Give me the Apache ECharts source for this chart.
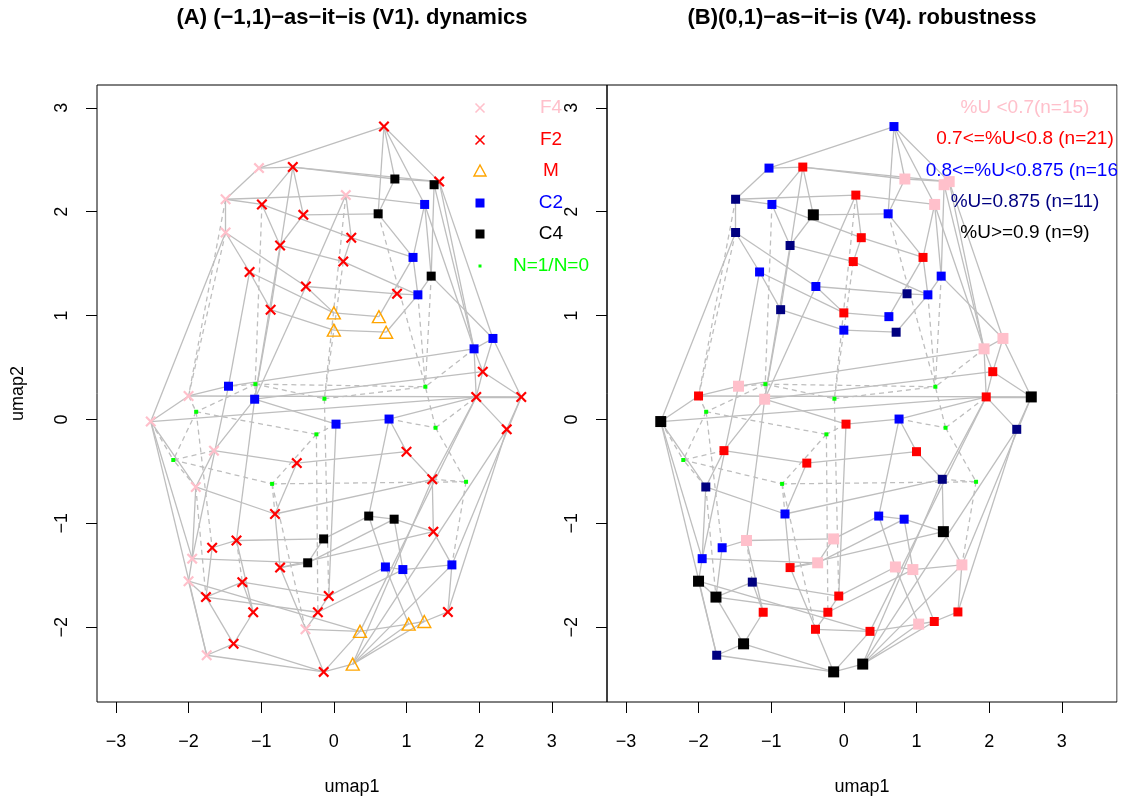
<!DOCTYPE html>
<html>
<head>
<meta charset="utf-8">
<title>umap dynamics / robustness</title>
<script src="https://cdn.jsdelivr.net/npm/echarts@6/dist/echarts.min.js"></script>
<style>
  html, body { margin: 0; padding: 0; background: #fff; }
  #chart { width: 1121px; height: 801px; }
</style>
</head>
<body>
<div id="chart"></div>
<script>
// ---- data ----
const pointId = [1, 2, 3, 4, 5, 6, 7, 8, 9, 10, 11, 12, 13, 14, 15, 16, 17, 18, 19, 20,
  21, 22, 23, 24, 25, 26, 29, 30, 31, 32, 33, 34, 35, 36, 37, 38, 39, 40,
  46, 47, 48, 49, 50, 51, 52, 53, 54, 55, 56, 57, 58, 59, 60, 61, 62, 63, 64, 65,
  66, 67, 68, 69, 70, 71, 72, 73, 74, 75, 76, 77, 78, 79, 80, 81, 82, 83, 84, 85, 86, 87, 88]

const umap1 = [-1.03, -0.565, -1.49, -0.99, -0.42, 0.165, 0.24, -1.49, -0.74, 0.13,
  -1.16, -0.385, -0.87, 0.0, 0.0, -1.45, -1.08, -1.09, -0.13, -2.0,
  0.69, 0.84, 1.38, 1.45, 1.25, 0.61,
  1.09, 1.34, 0.87, 1.157, 0.62, 0.72, 2.19, 1.93, 2.05, 1.26, 1.96, 2.58,
  -2.52, -1.895, 0.03, -0.24, -1.65, -2.21, -0.51, -0.85, -1.90, -0.81,
  -1.34, -0.14, -1.675, -1.95, -0.74, -0.36, -2.0, -1.26, -1.76, -0.07,
  -1.11, -0.22, -0.39, -1.38, -1.75, -0.14, 0.26, 0.36, 0.76, 1.40,
  2.38, 1.0, 1.355, 1.82, 0.48, 0.83, 1.37, 0.71, 0.95, 1.625, 1.57, 1.03, 1.245]

const umap2 = [2.42, 2.43, 2.12, 2.07, 1.97, 2.16, 1.75, 1.80, 1.675, 1.52,
  1.42, 1.28, 1.057, 1.026, 0.86, 0.32, 0.34, 0.195, 0.2, 0.226,
  2.82, 2.315, 2.26, 2.29, 2.07, 1.98,
  1.56, 1.38, 1.21, 1.20, 0.99, 0.84, 0.78, 0.68, 0.46, 0.315, 0.217, 0.217,
  -0.02, 0.074, -0.045, -0.143, -0.30, -0.39, -0.42, -0.62, -0.65, -0.91,
  -1.165, -1.15, -1.235, -1.34, -1.426, -1.38, -1.557, -1.566, -1.71, -1.70,
  -1.856, -1.856, -2.02, -2.16, -2.27, -2.43, -2.355, -2.04, 0.004, -0.08,
  -0.095, -0.31, -0.576, -0.60, -0.93, -0.96, -1.08, -1.42, -1.445, -1.40, -1.853, -1.97, -1.945]

// panel A: type of each point
const typeA = ['F4', 'F2', 'F4', 'F2', 'F2', 'F4', 'F2', 'F4', 'F2', 'F2',
  'F2', 'F2', 'F2', 'M', 'M', 'C2', 'N', 'C2', 'N', 'F4',
  'F2', 'C4', 'C4', 'F2', 'C2', 'C4',
  'C2', 'C4', 'F2', 'C2', 'M', 'M', 'C2', 'C2', 'F2', 'N', 'F2', 'F2',
  'F4', 'N', 'C2', 'N', 'F4', 'N', 'F2', 'N', 'F4', 'F2',
  'F2', 'C4', 'F2', 'F4', 'F2', 'C4', 'F4', 'F2', 'F2', 'F2',
  'F2', 'F2', 'F4', 'F2', 'F4', 'F2', 'M', 'M', 'C2', 'N',
  'F2', 'F2', 'F2', 'N', 'C4', 'C4', 'F2', 'C2', 'C2', 'C2', 'F2', 'M', 'M']

// panel B: %U class (p <0.7, r 0.7-0.8, b 0.8-0.875, n =0.875, k >=0.9, g N=1/N=0)
const classB = ['b', 'r', 'n', 'b', 'k', 'r', 'r', 'n', 'n', 'r',
  'b', 'b', 'n', 'r', 'b', 'p', 'g', 'p', 'g', 'r',
  'b', 'p', 'p', 'p', 'p', 'b',
  'r', 'b', 'n', 'b', 'b', 'n', 'p', 'p', 'r', 'g', 'r', 'k',
  'k', 'g', 'r', 'g', 'r', 'g', 'r', 'g', 'n', 'b',
  'p', 'p', 'b', 'b', 'r', 'p', 'k', 'n', 'k', 'r',
  'r', 'r', 'r', 'k', 'n', 'k', 'k', 'r', 'b', 'g',
  'n', 'r', 'n', 'g', 'b', 'b', 'k', 'p', 'p', 'p', 'r', 'p', 'r']

// graph edges (pairs of point ids)
const solidEdges = [[1, 2], [1, 3], [1, 21], [2, 5], [2, 22], [2, 24], [2, 4], [2, 13], [3, 4], [3, 6],
  [3, 8], [4, 7], [4, 9], [5, 9], [5, 26], [6, 7], [6, 12], [6, 25], [7, 10], [7, 29],
  [8, 11], [8, 12], [8, 46], [9, 10], [9, 18], [11, 13], [11, 14], [12, 14], [13, 15], [12, 31],
  [14, 33], [15, 34], [10, 32], [21, 22], [21, 24], [21, 25], [21, 26], [22, 24], [22, 26], [26, 29],
  [25, 29], [25, 30], [23, 30], [24, 35], [23, 36], [25, 36], [29, 32], [29, 33], [31, 32], [32, 34],
  [30, 32], [35, 36], [35, 37], [35, 40], [36, 37], [36, 39], [37, 40], [37, 39], [16, 36], [18, 37],
  [20, 40], [20, 46], [16, 20], [46, 39], [46, 59], [46, 54], [46, 70], [16, 59], [18, 48], [18, 50],
  [18, 56], [48, 65], [50, 52], [52, 77], [50, 54], [54, 55], [55, 78], [52, 55], [55, 60], [56, 57],
  [56, 58], [58, 64], [59, 61], [59, 62], [54, 59], [60, 61], [60, 71], [57, 80], [61, 81], [57, 61],
  [62, 64], [62, 73], [62, 70], [63, 65], [63, 64], [63, 66], [64, 67], [64, 69], [66, 69], [56, 66],
  [67, 68], [65, 67], [68, 73], [69, 70], [69, 71], [70, 71], [71, 72], [71, 73], [48, 74], [74, 39],
  [74, 80], [74, 77], [39, 40], [40, 76], [39, 76], [76, 86], [77, 78], [78, 39], [78, 82], [78, 72],
  [39, 73], [80, 81], [80, 83], [81, 82], [81, 84], [82, 85], [60, 82], [83, 84], [84, 85], [83, 65],
  [84, 67], [83, 87], [84, 88], [85, 86], [86, 88], [87, 88], [87, 73], [72, 88], [72, 87],
  [11, 16], [13, 18], [24, 36], [30, 35], [40, 85], [76, 72], [85, 72], [12, 18]]

const dashedEdges = [[3, 20], [4, 18], [6, 19], [10, 19], [30, 38], [32, 38], [36, 38], [19, 38], [17, 47], [17, 19],
  [17, 16], [20, 47], [47, 51], [47, 49], [51, 53], [50, 51], [46, 51], [54, 51], [53, 79], [53, 68],
  [49, 67], [19, 65], [74, 75], [75, 39], [75, 79], [78, 79], [79, 85], [75, 38], [48, 49], [49, 53],
  [53, 55], [54, 64], [56, 63], [8, 20], [26, 38], [17, 38], [47, 58]]

const xTicks = [-3, -2, -1, 0, 1, 2, 3]
const yTicks = [-2, -1, 0, 1, 2, 3]

const legendA = ['F4', 'F2', 'M', 'C2', 'C4', 'N=1/N=0']
const legendB = ['%U <0.7(n=15)', '0.7<=%U<0.8 (n=21)', '0.8<=%U<0.875 (n=16)', '%U=0.875 (n=11)', '%U>=0.9 (n=9)']

const titleA = '(A) (\u22121,1)\u2212as\u2212it\u2212is (V1). dynamics'
const titleB = '(B)(0,1)\u2212as\u2212it\u2212is (V4). robustness'

// ---- styles ----
const FONT = '"Liberation Sans", Arial, Helvetica, sans-serif'
const CROSS = 'path://M0,1.4L1.4,0L5,3.6L8.6,0L10,1.4L6.4,5L10,8.6L8.6,10L5,6.4L1.4,10L0,8.6L3.6,5Z'

const styleA = {
  F4: { symbol: CROSS, size: 11, color: '#FFC0CB' },
  F2: { symbol: CROSS, size: 11, color: '#FF0000' },
  M: { symbol: 'triangle', size: [13, 12], color: 'rgba(0,0,0,0)', border: '#FFA500' },
  C2: { symbol: 'rect', size: 9, color: '#0000FF' },
  C4: { symbol: 'rect', size: 9, color: '#000000' },
  N: { symbol: 'rect', size: 4, color: '#00FF00' }
}
const styleB = {
  p: { size: 11, color: '#FFC0CB' },
  r: { size: 9, color: '#FF0000' },
  b: { size: 9, color: '#0000FF' },
  n: { size: 9, color: '#000080' },
  k: { size: 11, color: '#000000' },
  g: { size: 4, color: '#00FF00' }
}
const legendAColor = ['#FFC0CB', '#FF0000', '#FF0000', '#0000FF', '#000000', '#00FF00']
const legendBColor = ['#FFC0CB', '#FF0000', '#0000FF', '#000080', '#000000']

const chart = echarts.init(document.getElementById('chart'))

const minus = v => String(v).replace('-', '\u2212')
const pt = id => {
  const i = pointId.indexOf(id)
  return [umap1[i], umap2[i]]
}

function edgeSeries (edges, dashed, k) {
  return {
    type: 'lines',
    coordinateSystem: 'cartesian2d',
    xAxisIndex: k,
    yAxisIndex: k,
    silent: true,
    z: 1,
    lineStyle: { color: '#BEBEBE', width: 1.3, opacity: 1, type: dashed ? [5, 4] : 'solid' },
    data: edges.map(e => ({ coords: [pt(e[0]), pt(e[1])] }))
  }
}

function xAxis (k) {
  return {
    gridIndex: k,
    type: 'value',
    min: -3.26,
    max: 3.76,
    axisLine: { show: false, onZero: false },
    splitLine: { show: false },
    axisTick: { show: true, length: 11, customValues: xTicks, lineStyle: { color: '#000', width: 1 } },
    axisLabel: { customValues: xTicks, formatter: minus, color: '#000', fontSize: 18, fontFamily: FONT, margin: 31 },
    name: 'umap1',
    nameLocation: 'middle',
    nameGap: 76,
    nameTextStyle: { color: '#000', fontSize: 18, fontFamily: FONT }
  }
}

function yAxis (k) {
  return {
    gridIndex: k,
    type: 'value',
    min: -2.72,
    max: 3.22,
    axisLine: { show: false, onZero: false },
    splitLine: { show: false },
    axisTick: { show: true, length: 11, customValues: yTicks, lineStyle: { color: '#000', width: 1 } },
    axisLabel: { customValues: yTicks, formatter: minus, rotate: 90, color: '#000', fontSize: 18, fontFamily: FONT, margin: 26 },
    name: k === 0 ? 'umap2' : '',
    nameLocation: 'middle',
    nameGap: 70,
    nameRotate: 90,
    nameTextStyle: { color: '#000', fontSize: 18, fontFamily: FONT }
  }
}

const series = [
  edgeSeries(solidEdges, false, 0),
  edgeSeries(dashedEdges, true, 0),
  edgeSeries(solidEdges, false, 1),
  edgeSeries(dashedEdges, true, 1)
]

// panel A points
Object.keys(styleA).forEach(t => {
  const s = styleA[t]
  series.push({
    type: 'scatter',
    name: t,
    xAxisIndex: 0,
    yAxisIndex: 0,
    silent: true,
    z: 3,
    symbol: s.symbol,
    symbolSize: s.size,
    itemStyle: s.border
      ? { color: s.color, borderColor: s.border, borderWidth: 1.4, opacity: 1 }
      : { color: s.color, opacity: 1 },
    data: pointId.map((id, i) => i).filter(i => typeA[i] === t).map(i => [umap1[i], umap2[i]])
  })
})

// panel B points
Object.keys(styleB).forEach(c => {
  const s = styleB[c]
  series.push({
    type: 'scatter',
    name: c,
    xAxisIndex: 1,
    yAxisIndex: 1,
    silent: true,
    z: 3,
    symbol: 'rect',
    symbolSize: s.size,
    itemStyle: { color: s.color, opacity: 1 },
    data: pointId.map((id, i) => i).filter(i => classB[i] === c).map(i => [umap1[i], umap2[i]])
  })
})

// legends and titles
const legendRowsA = [108, 140, 171, 203, 234, 266]
const legendRowsB = [108, 139, 171, 202, 233]
const graphic = []

legendA.forEach((label, i) => {
  const y = legendRowsA[i]
  const x = 480
  if (i < 2) {
    graphic.push({ type: 'line', shape: { x1: x - 4.5, y1: y - 4.5, x2: x + 4.5, y2: y + 4.5 }, style: { stroke: legendAColor[i], lineWidth: 1.6 }, z: 10 })
    graphic.push({ type: 'line', shape: { x1: x - 4.5, y1: y + 4.5, x2: x + 4.5, y2: y - 4.5 }, style: { stroke: legendAColor[i], lineWidth: 1.6 }, z: 10 })
  } else if (i === 2) {
    graphic.push({ type: 'polygon', shape: { points: [[x - 6, y + 5], [x + 6, y + 5], [x, y - 6]] }, style: { fill: 'none', stroke: '#FFA500', lineWidth: 1.4 }, z: 10 })
  } else {
    const sz = i === 5 ? 3 : 9
    const col = i === 3 ? '#0000FF' : i === 4 ? '#000000' : '#00FF00'
    graphic.push({ type: 'rect', shape: { x: x - sz / 2, y: y - sz / 2, width: sz, height: sz }, style: { fill: col }, z: 10 })
  }
  graphic.push({
    type: 'text', x: 551, y: y, z: 10,
    style: { text: label, fill: legendAColor[i], font: '19px ' + FONT, textAlign: 'center', textVerticalAlign: 'middle' }
  })
})

legendB.forEach((label, i) => {
  graphic.push({
    type: 'text', x: 1025, y: legendRowsB[i], z: 10,
    style: { text: label, fill: legendBColor[i], font: '19px ' + FONT, textAlign: 'center', textVerticalAlign: 'middle' }
  })
})
// cut the legend text at the panel edge
graphic.push({ type: 'rect', shape: { x: 1117.5, y: 0, width: 10, height: 801 }, style: { fill: '#fff' }, z: 20 })

graphic.push({ type: 'text', x: 352, y: 18, style: { text: titleA, fill: '#000', font: 'bold 22px ' + FONT, textAlign: 'center', textVerticalAlign: 'middle' } })
graphic.push({ type: 'text', x: 862, y: 18, style: { text: titleB, fill: '#000', font: 'bold 22px ' + FONT, textAlign: 'center', textVerticalAlign: 'middle' } })

const option = {
  animation: false,
  backgroundColor: '#fff',
  grid: [
    { left: 97, top: 85, width: 510, height: 622, show: true, borderColor: '#000', borderWidth: 1, backgroundColor: 'rgba(0,0,0,0)' },
    { left: 607, top: 85, width: 510, height: 622, show: true, borderColor: '#000', borderWidth: 1, backgroundColor: 'rgba(0,0,0,0)' }
  ],
  xAxis: [xAxis(0), xAxis(1)],
  yAxis: [yAxis(0), yAxis(1)],
  series: series,
  graphic: graphic
}

chart.setOption(option)
</script>
</body>
</html>
